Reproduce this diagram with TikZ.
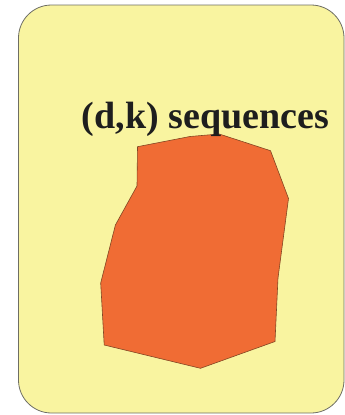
\documentclass[tikz,border=0pt]{standalone}
\usepackage{fontspec}
\setmainfont{Liberation Serif}
\definecolor{paneyellow}{RGB}{249,244,160}
\definecolor{blobfill}{RGB}{240,108,52}
\definecolor{blobline}{RGB}{130,70,35}
\definecolor{paneline}{RGB}{110,110,100}
\definecolor{labeltext}{RGB}{30,30,30}
\tikzset{
  pane/.style={fill=paneyellow, draw=paneline, line width=0.8pt, rounded corners=33pt},
  blob/.style={fill=blobfill, draw=blobline, line width=0.6pt, line join=round},
  title/.style={font=\bfseries\fontsize{38}{40}\selectfont, text=labeltext, inner sep=0pt, anchor=base west}
}
\begin{document}
\begin{tikzpicture}[x=1pt,y=-1pt]
\useasboundingbox (0,0) rectangle (345,415);
\draw[pane] (18.5,5) rectangle (344,413);
\draw[blob] (137.5,146.7) -- (190,136.5) -- (219.2,134) -- (270.5,150.7) -- (288.5,198.5)
  -- (278,278) -- (275,341.5) -- (200.5,368.3) -- (104.2,345) -- (100.7,283) -- (115.4,225)
  -- (137,186) -- cycle;
\node[title] (lbl) at (81.7,128) {(d,k) sequences};
\end{tikzpicture}
\end{document}
